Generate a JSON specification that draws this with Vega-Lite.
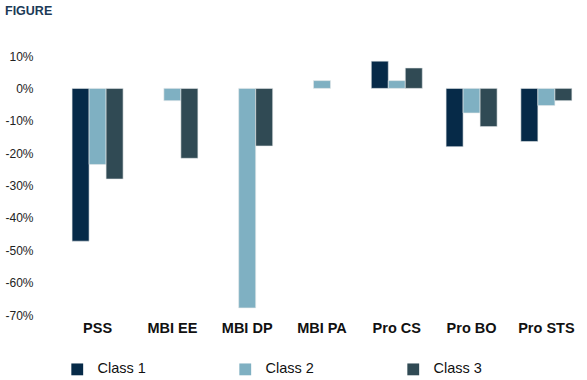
{
  "$schema": "https://vega.github.io/schema/vega-lite/v6.json",
  "width": 545,
  "height": 259,
  "autosize": {"type": "none"},
  "padding": {"left": 40, "top": 56, "right": 2, "bottom": 65},
  "background": "white",
  "config": {"view": {"stroke": null}, "font": "Liberation Sans"},
  "title": {"text": "FIGURE", "anchor": "start", "frame": "group", "dx": -35, "offset": 33, "fontSize": 12.5, "fontWeight": "bold", "color": "#1b3a57", "font": "Liberation Sans"},
  "data": {"values": [
    {"measure": "PSS", "cls": "Class 1", "value": -47.2},
    {"measure": "PSS", "cls": "Class 2", "value": -23.5},
    {"measure": "PSS", "cls": "Class 3", "value": -28},
    {"measure": "MBI EE", "cls": "Class 2", "value": -3.8},
    {"measure": "MBI EE", "cls": "Class 3", "value": -21.6},
    {"measure": "MBI DP", "cls": "Class 2", "value": -67.8},
    {"measure": "MBI DP", "cls": "Class 3", "value": -17.8},
    {"measure": "MBI PA", "cls": "Class 2", "value": 2.4},
    {"measure": "Pro CS", "cls": "Class 1", "value": 8.4},
    {"measure": "Pro CS", "cls": "Class 2", "value": 2.4},
    {"measure": "Pro CS", "cls": "Class 3", "value": 6.3},
    {"measure": "Pro BO", "cls": "Class 1", "value": -18},
    {"measure": "Pro BO", "cls": "Class 2", "value": -7.6},
    {"measure": "Pro BO", "cls": "Class 3", "value": -11.8},
    {"measure": "Pro STS", "cls": "Class 1", "value": -16.4},
    {"measure": "Pro STS", "cls": "Class 2", "value": -5.3},
    {"measure": "Pro STS", "cls": "Class 3", "value": -3.8}
  ]},
  "mark": {"type": "bar", "stroke": "#e4e8ea", "strokeWidth": 0.6},
  "encoding": {
    "x": {"field": "measure", "type": "nominal", "sort": ["PSS", "MBI EE", "MBI DP", "MBI PA", "Pro CS", "Pro BO", "Pro STS"],
      "scale": {"paddingInner": 0.318, "paddingOuter": 0.302, "align": 0.71},
      "axis": {"title": null, "labelAngle": 0, "domain": false, "ticks": false, "labelFontSize": 14.5, "labelFontWeight": "bold", "labelColor": "#111", "labelPadding": 6, "labelFont": "Liberation Sans"}},
    "xOffset": {"field": "cls", "type": "nominal", "scale": {"paddingInner": 0, "paddingOuter": 0}},
    "y": {"field": "value", "type": "quantitative",
      "scale": {"domain": [-70, 10], "nice": false},
      "axis": {"title": null, "values": [10, 0, -10, -20, -30, -40, -50, -60, -70], "labelExpr": "datum.value + '%'", "domain": false, "ticks": false, "tickSize": 0, "grid": false, "labelFontSize": 12, "labelColor": "#222", "labelPadding": 7, "labelFont": "Liberation Sans"}},
    "color": {"field": "cls", "type": "nominal",
      "scale": {"domain": ["Class 1", "Class 2", "Class 3"], "range": ["#062a48", "#7fb0c2", "#304a54"]},
      "legend": {"title": null, "orient": "none", "legendX": 30, "legendY": 306, "direction": "horizontal", "columns": 3, "columnPadding": 92, "symbolType": "square", "symbolSize": 140, "symbolStrokeWidth": 0, "labelOffset": 13, "labelFontSize": 14.5, "labelColor": "#111", "labelFont": "Liberation Sans"}}
  }
}
